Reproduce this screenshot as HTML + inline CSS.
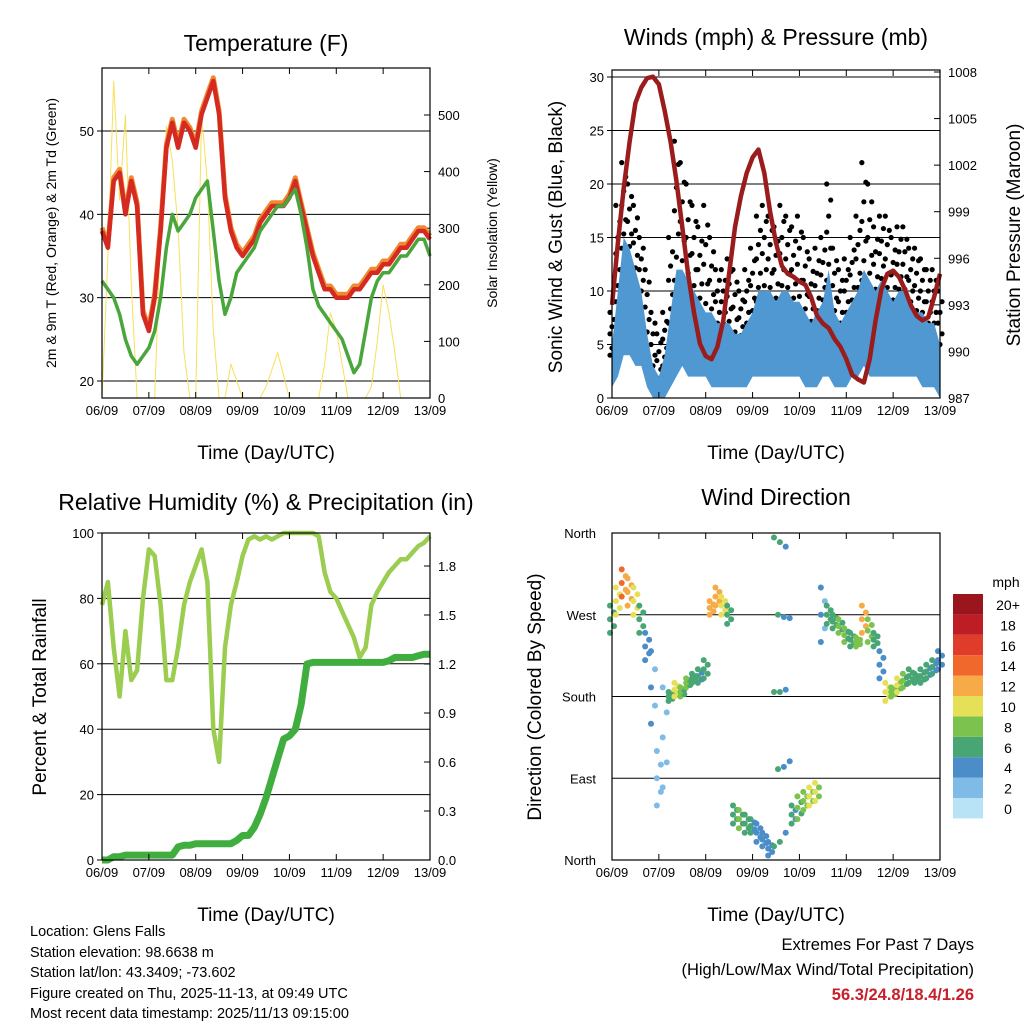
<!DOCTYPE html>
<html><head><meta charset="utf-8">
<style>
body{margin:0;background:#fff;width:1024px;height:1024px;overflow:hidden;font-family:"Liberation Sans",sans-serif}
svg text{font-family:"Liberation Sans",sans-serif;fill:#000}
.info{position:absolute;left:30px;font-size:14.5px;line-height:20.5px}
</style></head><body>
<svg id="c" width="1024" height="1024" viewBox="0 0 1024 1024" xmlns="http://www.w3.org/2000/svg"></svg>
<div class="info" style="top:922px">Location: Glens Falls<br>Station elevation: 98.6638 m<br>Station lat/lon: 43.3409; -73.602<br>Figure created on Thu, 2025-11-13, at 09:49 UTC<br>Most recent data timestamp: 2025/11/13 09:15:00</div>
<div style="position:absolute;right:50px;top:933px;text-align:right;font-size:16.5px;line-height:25px">Extremes For Past 7 Days<br>(High/Low/Max Wind/Total Precipitation)<br><b style="color:#c8202a">56.3/24.8/18.4/1.26</b></div>
<script>
// 3-hourly samples, 06/09 00Z .. 13/09 00Z (57 points)
const dayLabels=["06/09","07/09","08/09","09/09","10/09","11/09","12/09","13/09"];
const tempF=[38,36,44,45,40,44,41,28,26,30,38,48,51,48,51,50,48,52,54,56,52,42,38,36,35,36,37,39,40,41,41,41,42,44,41,38,35,33,31,31,30,30,30,31,31,32,33,33,34,34,35,36,36,37,38,38,37];
const dewF=[32,31,30,28,25,23,22,23,24,26,30,36,40,38,39,40,42,43,44,38,32,28,30,33,34,35,36,38,39,40,41,41,42,43,40,36,31,29,28,27,26,25,23,21,22,26,30,32,33,33,34,35,35,36,37,37,35];
const solar=[0,250,560,350,500,200,0,0,0,0,300,480,420,300,80,0,0,500,380,120,0,0,60,30,0,0,0,0,20,50,80,40,0,0,0,0,0,0,60,150,120,60,0,0,0,0,20,100,200,150,80,0,0,0,0,0,0];
const gustMax=[8,18,22,20,18,15,12,8,6,8,15,24,22,20,18,16,18,15,12,12,13,12,10,12,14,17,18,17,16,18,17,16,17,15,13,14,15,20,14,12,13,15,17,22,20,16,17,17,15,16,16,14,14,13,12,12,10];
const windMax=[5,10,15,14,12,10,6,3,2,4,8,12,12,11,10,9,8,8,7,7,7,6,6,7,8,10,10,10,9,10,10,9,9,8,7,8,9,12,8,7,8,9,10,12,11,10,11,10,9,10,10,9,8,8,7,7,5];
const windMin=[1,2,4,4,3,3,1,0,0,0,1,2,3,2,2,2,2,1,1,1,1,1,1,1,2,2,2,2,2,2,2,2,2,1,1,1,2,2,1,1,1,2,2,3,2,2,2,2,2,2,2,2,2,1,1,1,0];
const pressure=[993,997,1000.5,1003.5,1006,1007,1007.6,1007.7,1007.2,1005.5,1003.5,1001,998,995,992.5,990.5,989.7,989.5,990.3,992,995,998,1000,1001.5,1002.5,1003,1001.5,999,997,995.5,995,994.8,994.5,994.3,993.5,992.3,991.8,991.5,990.8,990.3,989.5,988.5,988.2,988,989.5,992,994,995,995.2,994.8,994,993,992.3,992,992.2,993.5,995];
const rh=[78,85,65,50,70,55,58,80,95,93,78,55,55,65,78,85,90,95,85,40,30,65,78,85,93,98,99,98,99,98,99,100,100,100,100,100,100,99,88,82,80,76,72,68,62,65,78,82,85,88,90,92,92,94,96,97,99];
const precip=[0,0,0.02,0.02,0.03,0.03,0.03,0.03,0.03,0.03,0.03,0.03,0.03,0.08,0.09,0.09,0.1,0.1,0.1,0.1,0.1,0.1,0.1,0.12,0.15,0.15,0.2,0.28,0.38,0.5,0.62,0.74,0.76,0.8,0.95,1.2,1.21,1.21,1.21,1.21,1.21,1.21,1.21,1.21,1.21,1.21,1.21,1.21,1.21,1.22,1.24,1.24,1.24,1.24,1.25,1.26,1.26];
const dirA=[280,300,320,310,300,280,250,230,120,190,185,195,190,200,205,210,220,285,300,290,280,60,55,50,45,40,30,20,355,350,345,60,70,75,80,85,300,280,270,265,255,250,245,280,265,250,230,195,190,200,205,210,205,210,215,220,230];
const dirB=[250,270,290,280,270,250,220,150,60,80,175,180,180,190,195,195,200,270,280,270,260,40,35,30,30,20,15,5,15,20,30,40,45,55,60,65,240,260,255,250,240,235,235,250,240,235,200,175,180,185,190,195,195,195,200,205,210];
const dirSpeed=[6,10,13,12,10,6,4,3,2,2,6,10,7,7,6,5,6,12,12,10,6,6,7,6,5,4,4,4,6,5,4,5,7,8,9,9,3,6,6,7,7,6,8,12,8,6,4,10,8,9,7,6,6,6,5,5,4];
const cbLabels=["0","2","4","6","8","10","12","14","16","18","20+"];
const cbColors=["#b8e2f6","#7fbbe6","#4a8dc8","#48a574","#7cc24e","#e6e059","#f7ab48","#f1682c","#e03c2c","#bf1d25","#9a151c"];

const svg=document.getElementById('c');
const NS='http://www.w3.org/2000/svg';
function el(tag,attrs,parent){const e=document.createElementNS(NS,tag);for(const k in attrs)e.setAttribute(k,attrs[k]);(parent||svg).appendChild(e);return e;}
function txt(x,y,s,size,anchor,rot){const t=el('text',{x:x,y:y,'font-size':size,'text-anchor':anchor||'middle'});if(rot)t.setAttribute('transform','rotate(-90 '+x+' '+y+')');t.textContent=s;return t;}
const N=57;
function mkX(x0,x1){return i=>x0+(x1-x0)*i/(N-1);}
function mkY(v0,v1,y0,y1){return v=>y0+(y1-y0)*(v-v0)/(v1-v0);}
function poly(xs,ys,vals,color,w){let d='';vals.forEach((v,i)=>{d+=(i?'L':'M')+xs(i).toFixed(1)+','+ys(v).toFixed(1);});return el('path',{d:d,fill:'none',stroke:color,'stroke-width':w,'stroke-linejoin':'round'});}
function frame(x0,y0,x1,y1,title,ty){
  const r=el('rect',{x:x0,y:y0,width:x1-x0,height:y1-y0,fill:'none',stroke:'#000','stroke-width':1.2});
  
  
  const t=txt((x0+x1)/2,ty,title,23);
  
  
  dayLabels.forEach((d,k)=>{const x=x0+(x1-x0)*k/7;
    el('line',{x1:x,y1:y1,x2:x,y2:y1-6,stroke:'#000'});el('line',{x1:x,y1:y0,x2:x,y2:y0+6,stroke:'#000'});
    const l=txt(x,y1+17,d,13);
    
    });
  const xt=txt((x0+x1)/2,y1+61,'Time (Day/UTC)',19);
  
  
}
function leftTicks(x0,x1,ys,ticks,grid){ticks.forEach(v=>{const y=ys(v);
  if(grid)el('line',{x1:x0,y1:y,x2:x1,y2:y,stroke:'#000','stroke-width':1});
  el('line',{x1:x0-5,y1:y,x2:x0,y2:y,stroke:'#000'});
  const l=txt(x0-8,y+5,String(v),13,'end');
  
  });}
function rightTicks(x1,ys,ticks,fmt){ticks.forEach(v=>{const y=ys(v);
  el('line',{x1:x1,y1:y,x2:x1-6,y2:y,stroke:'#000'});
  const l=txt(x1+8,y+5,fmt?fmt(v):String(v),13,'start');
  
  });}

// ---------- Panel 1: temperature ----------
(function(){
  const x0=102,x1=430,y0=68,y1=398;
  const X=mkX(x0,x1),Y=mkY(20,50,381,131),YS=mkY(0,500,398,115);
  leftTicks(x0,x1,Y,[20,30,40,50],true);
  rightTicks(x1,YS,[0,100,200,300,400,500]);
  const s=poly(X,YS,solar,'#f7e05a',1);
  
  
  const o=poly(X,Y,tempF.map(v=>v+0.4),'#f08a30',5);
  
  
  const r=poly(X,Y,tempF,'#d42a22',4.5);
  
  
  const g=poly(X,Y,dewF,'#4aa63c',3.5);
  
  
  frame(x0,y0,x1,y1,'Temperature (F)',51);
  const a=txt(56,233,'2m & 9m T (Red, Orange) & 2m Td (Green)',14,'middle',true);
  
  
  const b=txt(497,233,'Solar Insolation (Yellow)',14,'middle',true);
  
  
})();

// ---------- Panel 2: winds & pressure ----------
(function(){
  const x0=612,x1=940,y0=70,y1=398;
  const X=mkX(x0,x1),Y=mkY(0,30,398,77),YP=mkY(987,1008,398,72);
  leftTicks(x0,x1,Y,[0,5,10,15,20,25,30],true);
  rightTicks(x1,YP,[987,990,993,996,999,1002,1005,1008]);
  gustMax.forEach((v,i)=>{const lo=windMax[i]-1;
    for(let k=0;k<7;k++){const val=lo+(v-lo)*k/6;
      const c=el('circle',{cx:X(i)+((k%3)-1)*2,cy:Y(val),r:2.6,fill:'#000'});
      
      }});
  let w='';windMax.forEach((v,i)=>{w+=(i?'L':'M')+X(i).toFixed(1)+','+Y(v).toFixed(1);});
  for(let i=N-1;i>=0;i--)w+='L'+X(i).toFixed(1)+','+Y(windMin[i]).toFixed(1);
  const wb=el('path',{d:w+'Z',fill:'#4f98d2'});
  
  
  const p=poly(X,YP,pressure,'#9a1c1c',4.5);
  
  
  frame(x0,y0,x1,y1,'Winds (mph) & Pressure (mb)',45);
  const a=txt(562,237,'Sonic Wind & Gust (Blue, Black)',19,'middle',true);
  
  
  const b=txt(1020,235,'Station Pressure (Maroon)',19,'middle',true);
  
  
})();

// ---------- Panel 3: RH & precip ----------
(function(){
  const x0=102,x1=430,y0=533,y1=860;
  const X=mkX(x0,x1),Y=mkY(0,100,860,533),YR=mkY(0,1.8,860,566);
  leftTicks(x0,x1,Y,[0,20,40,60,80,100],true);
  rightTicks(x1,YR,[0,0.3,0.6,0.9,1.2,1.5,1.8],v=>v.toFixed(1));
  const r=poly(X,Y,rh,'#9acd50',4.5);
  
  
  const p=poly(X,YR,precip,'#3fae3f',7);
  
  
  frame(x0,y0,x1,y1,'Relative Humidity (%) & Precipitation (in)',510);
  const a=txt(46,697,'Percent & Total Rainfall',19,'middle',true);
  
  
})();

// ---------- Panel 4: wind direction ----------
(function(){
  const x0=612,x1=940,y0=533,y1=860;
  const X=mkX(x0,x1),Y=mkY(0,360,860,533);
  const names=['North','East','South','West','North'];
  [0,90,180,270,360].forEach((v,k)=>{const y=Y(v);
    el('line',{x1:x0,y1:y,x2:x1,y2:y,stroke:'#000'});
    const l=txt(x0-16,y+5,names[k],13,'end');
    
    });
  const col=s=>cbColors[Math.min(10,Math.max(0,Math.round(s/2)))];
  dirA.forEach((a,i)=>{const b=dirB[i];
    for(let k=0;k<5;k++){const v=b+(a-b)*k/4;
      const c=el('circle',{cx:X(i)+(k%2?2:-2),cy:Y((v+360)%360),r:3,fill:col(dirSpeed[i]-(k%2))});
      
      }});
  frame(x0,y0,x1,y1,'Wind Direction',505);
  const a=txt(541,697,'Direction (Colored By Speed)',19,'middle',true);
  
  
  const m=txt(1006,587,'mph',14,'middle');
  
  
  cbColors.forEach((c,k)=>{const y=798-k*20.4;
    const r=el('rect',{x:953,y:y,width:30,height:20.4,fill:c});
    
    
    const l=txt(1008,y+16,cbLabels[k],14,'middle');
    
    });
})();
</script>
</body></html>
